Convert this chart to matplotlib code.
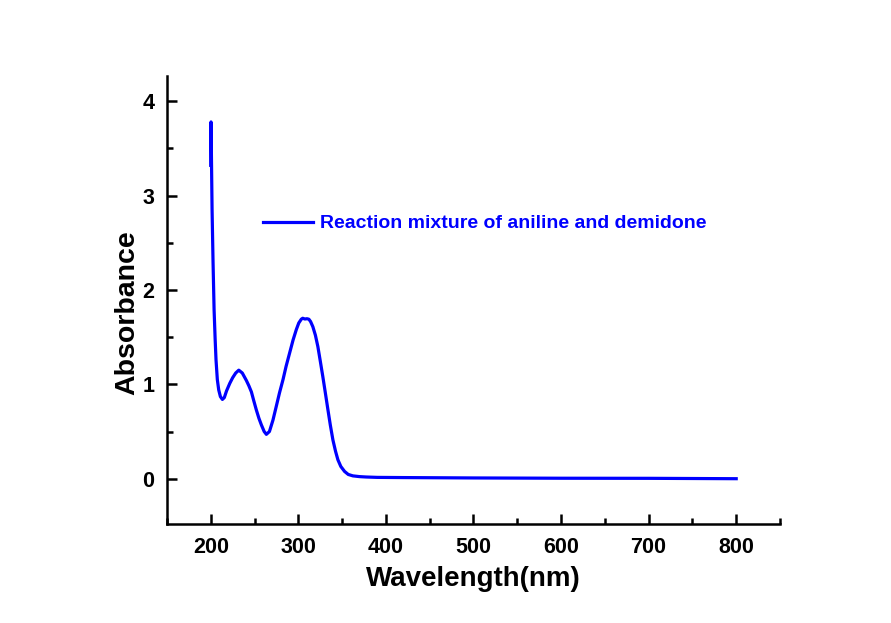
import matplotlib.pyplot as plt
from matplotlib.ticker import MultipleLocator

# UV-vis spectrum
wavelength = [200, 200.3, 201.5, 202.6, 203.8, 205, 206, 207.5, 209.1, 211, 213.3, 215.5,
              218, 221.7, 225, 228.5, 232, 236, 240.7, 243.5, 246.4, 249, 252, 255,
              257.8, 261, 263.5, 267, 271, 274.9, 278.5, 282.5, 286, 290, 294, 297.7,
              300.5, 303.4, 305, 307.5, 309.8, 312, 314, 316.6, 319.5, 322.3, 325,
              328, 331, 333.8, 336.5, 339.5, 342.5, 345.2, 348.5, 352.8, 357, 362.3,
              370, 377.5, 390, 420, 500, 600, 700, 800]
absorbance = [3.32, 3.78, 2.85, 2.3, 1.79, 1.48, 1.26, 1.05, 0.94, 0.87, 0.84, 0.86,
              0.93, 1.01, 1.07, 1.12, 1.15, 1.12, 1.04, 0.985, 0.92, 0.83, 0.73, 0.64,
              0.57, 0.5, 0.47, 0.5, 0.62, 0.77, 0.91, 1.05, 1.19, 1.33, 1.47, 1.58,
              1.65, 1.69, 1.70, 1.692, 1.695, 1.69, 1.665, 1.61, 1.52, 1.40, 1.25,
              1.08, 0.9, 0.73, 0.57, 0.41, 0.29, 0.20, 0.13, 0.077, 0.045, 0.03,
              0.022, 0.018, 0.014, 0.012, 0.008, 0.005, 0.004, 0.0]

plt.rcParams['font.family'] = 'Liberation Sans'
plt.rcParams['font.weight'] = 'bold'

fig = plt.figure(figsize=(8.91, 6.23), dpi=100)
ax = fig.add_axes([0.1874, 0.1589, 0.6880, 0.7196])

ax.plot(wavelength, absorbance, color='#0000ff', linewidth=2.3,
        label='Reaction mixture of aniline and demidone')

ax.set_xlim(150, 850)
ax.set_ylim(-0.48, 4.27)
ax.xaxis.set_major_locator(MultipleLocator(100))
ax.xaxis.set_minor_locator(MultipleLocator(50))
ax.yaxis.set_major_locator(MultipleLocator(1))
ax.yaxis.set_minor_locator(MultipleLocator(0.5))
ax.set_xticks([200, 300, 400, 500, 600, 700, 800])

for side in ['top', 'right']:
    ax.spines[side].set_visible(False)
for side in ['left', 'bottom']:
    ax.spines[side].set_linewidth(1.8)

ax.tick_params(which='major', direction='in', length=7, width=1.8,
               labelsize=15.5, pad=9)
ax.tick_params(which='minor', direction='in', length=4, width=1.8)

ax.set_xlabel('Wavelength(nm)', fontsize=20, fontweight='bold', labelpad=6)
ax.set_ylabel('Absorbance', fontsize=20.5, fontweight='bold')
ax.yaxis.set_label_coords(-0.043, 0.472)

leg = ax.legend(loc='center left', bbox_to_anchor=(0.128, 0.670), frameon=False,
                fontsize=14, handlelength=2.6, handletextpad=0.35,
                labelcolor='#0000ff')

fig.savefig('out.png', dpi=100)
